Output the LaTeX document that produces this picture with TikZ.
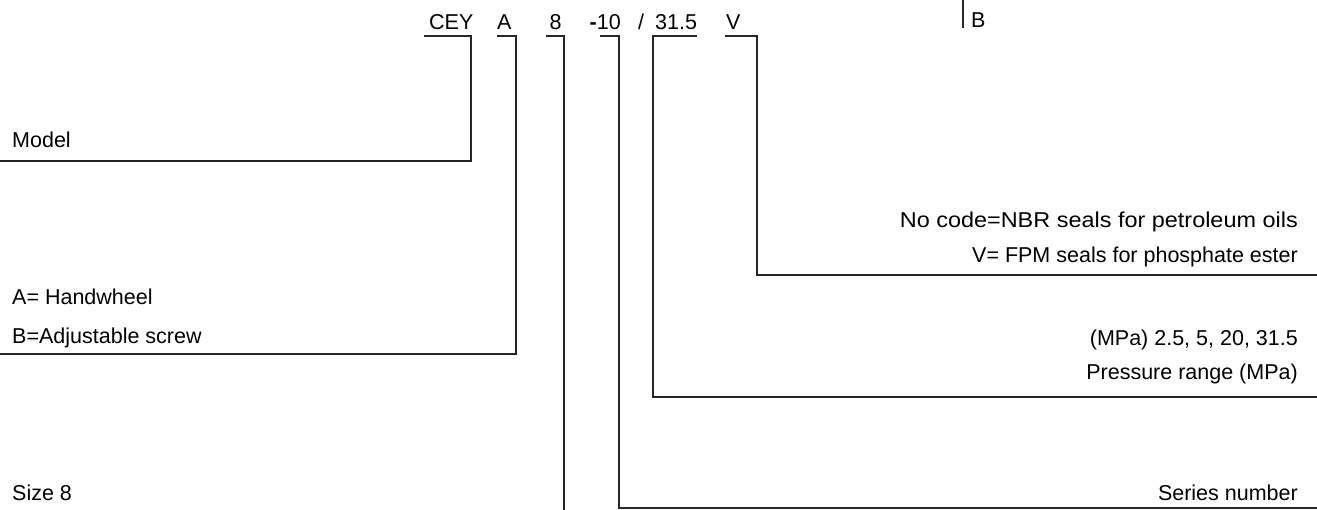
\documentclass[tikz,border=0pt]{standalone}
\usepackage{fontspec}
\usepackage{graphicx}
\setmainfont{Liberation Sans}
\begin{document}
\begin{tikzpicture}[x=1pt,y=-1pt,
  lbl/.style={inner sep=0pt, font=\fontsize{21.5}{24}\selectfont, text=black},
  lw/.style={lbl, anchor=base west},
  le/.style={lbl, anchor=base east},
  conn/.style={line width=1.6pt, black!85}]
\useasboundingbox[fill=white] (0,0) rectangle (1317,510);
% code string
\node[lw] (cey)  at (429,29.5) {CEY};
\node[lw] (ca)   at (497,29.5) {A};
\node[lw] (c8)   at (549.5,29.5) {8};
\node[lw] (c10)  at (589.5,29.5) {\textbf{-}10};
\node[lw] (csl)  at (638,29.5) {/};
\node[lw] (c315) at (655,29.5) {31.5};
\node[lw] (cv)   at (726,29.5) {V};
\node[lw] (tb)   at (971,28) {B};
% left labels
\node[lw] (model) at (12,148) {Model};
\node[lw] (hand)  at (12,305) {A= Handwheel};
\node[lw] (screw) at (12,343.5) {B=Adjustable screw};
\node[lw] (size)  at (12,500) {Size 8};
% right labels
\node[le] (nbr)   at (1298,227.7) {\scalebox{1.09}[1]{No code=NBR seals for petroleum oils}};
\node[le] (fpm)   at (1298,262.3) {V= FPM seals for phosphate ester};
\node[le] (mpa)   at (1298,346) {(MPa) 2.5, 5, 20, 31.5};
\node[le] (pr)    at (1298,380) {Pressure range (MPa)};
\node[le] (ser)   at (1298,500) {Series number};
% connector corners
\coordinate (t1) at (424,36);  \coordinate (b1) at (471,161);  \coordinate (m1) at (0,161);
\coordinate (t2) at (497,36);  \coordinate (b2) at (516,354);  \coordinate (m2) at (0,354);
\coordinate (t3) at (546,36);  \coordinate (b3) at (564,512);
\coordinate (t4) at (600,36);  \coordinate (b4) at (619,508);  \coordinate (m4) at (1317,508);
\coordinate (t5) at (697,36);  \coordinate (b5) at (653,397);  \coordinate (m5) at (1317,397);
\coordinate (t6) at (725,36);  \coordinate (b6) at (757,275);  \coordinate (m6) at (1317,275);
\coordinate (t7) at (963,0);   \coordinate (b7) at (963,28);
\draw[conn] (t1) -| (b1) -- (m1);
\draw[conn] (t2) -| (b2) -- (m2);
\draw[conn] (t3) -| (b3);
\draw[conn] (t4) -| (b4) -- (m4);
\draw[conn] (t5) -| (b5) -- (m5);
\draw[conn] (t6) -| (b6) -- (m6);
\draw[conn] (t7) -- (b7);
\end{tikzpicture}
\end{document}
